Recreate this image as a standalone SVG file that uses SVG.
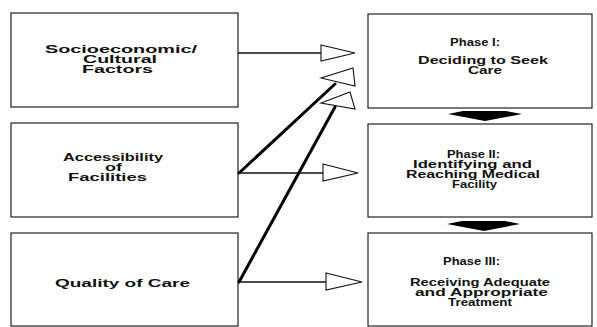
<svg xmlns="http://www.w3.org/2000/svg" width="597" height="327" viewBox="0 0 597 327">
<style>
.box{fill:#fff;stroke:#222;stroke-width:1.2}
text{font-family:"Liberation Sans",Arial,sans-serif;font-size:11px;font-weight:bold;fill:#111;text-anchor:start}
.thin{stroke:#111;stroke-width:1.4;fill:none}
.thick{stroke:#000;stroke-width:3;fill:none;stroke-linecap:round}
.head{fill:#fff;stroke:#111;stroke-width:1.1;stroke-linejoin:miter}
.big{fill:#000}
</style>
<rect width="597" height="327" fill="#fff"/>
<g id="socio">
<rect class="box" x="11" y="13" width="227" height="94"/>
<text x="45" y="53" textLength="152" lengthAdjust="spacingAndGlyphs">Socioeconomic/</text>
<text x="83" y="63" textLength="74" lengthAdjust="spacingAndGlyphs">Cultural</text>
<text x="82" y="73" textLength="71" lengthAdjust="spacingAndGlyphs">Factors</text>
</g>
<g id="access">
<rect class="box" x="11" y="123" width="227" height="94"/>
<text x="63" y="161" textLength="100" lengthAdjust="spacingAndGlyphs">Accessibility</text>
<text x="105" y="171" textLength="17" lengthAdjust="spacingAndGlyphs">of</text>
<text x="68" y="181" textLength="79" lengthAdjust="spacingAndGlyphs">Facilities</text>
</g>
<g id="quality">
<rect class="box" x="11" y="233" width="227" height="93"/>
<text x="55" y="287" textLength="135" lengthAdjust="spacingAndGlyphs">Quality of Care</text>
</g>
<g id="phase1">
<rect class="box" x="368" y="14" width="224" height="94"/>
<text x="450" y="46" textLength="50" lengthAdjust="spacingAndGlyphs">Phase I:</text>
<text x="418" y="64" textLength="130" lengthAdjust="spacingAndGlyphs">Deciding to Seek</text>
<text x="468" y="74" textLength="34" lengthAdjust="spacingAndGlyphs">Care</text>
</g>
<g id="phase2">
<rect class="box" x="368" y="124" width="224" height="93"/>
<text x="447" y="158" textLength="53" lengthAdjust="spacingAndGlyphs">Phase II:</text>
<text x="413" y="168" textLength="119" lengthAdjust="spacingAndGlyphs">Identifying and</text>
<text x="406" y="178" textLength="134" lengthAdjust="spacingAndGlyphs">Reaching Medical</text>
<text x="452" y="188" textLength="45" lengthAdjust="spacingAndGlyphs">Facility</text>
</g>
<g id="phase3">
<rect class="box" x="368" y="233" width="224" height="93"/>
<text x="443" y="265" textLength="57" lengthAdjust="spacingAndGlyphs">Phase III:</text>
<text x="410" y="286" textLength="140" lengthAdjust="spacingAndGlyphs">Receiving Adequate</text>
<text x="415" y="296" textLength="133" lengthAdjust="spacingAndGlyphs">and Appropriate</text>
<text x="448" y="306" textLength="64" lengthAdjust="spacingAndGlyphs">Treatment</text>
</g>
<g id="connectors">
<line class="thin" x1="238" y1="53" x2="321" y2="53"/>
<polygon class="head" points="321,45 355,53 321,61"/>
<line class="thin" x1="238" y1="173" x2="323" y2="173"/>
<polygon class="head" points="323,164 358,173 323,181"/>
<line class="thin" x1="238" y1="282" x2="326" y2="282"/>
<polygon class="head" points="326,273 362,282 326,290"/>
<line class="thick" x1="239" y1="173" x2="335" y2="84"/>
<polygon class="head" points="321,78 353,68 355,86"/>
<line class="thick" x1="239" y1="282" x2="335" y2="107"/>
<polygon class="head" points="321,103 350,92 355,109"/>
<polygon class="big" points="463,111 506,111 522,114 485,121 448,114"/>
<polygon class="big" points="462,221 505,221 520,224 484,231 447,224"/>
</g>
</svg>
